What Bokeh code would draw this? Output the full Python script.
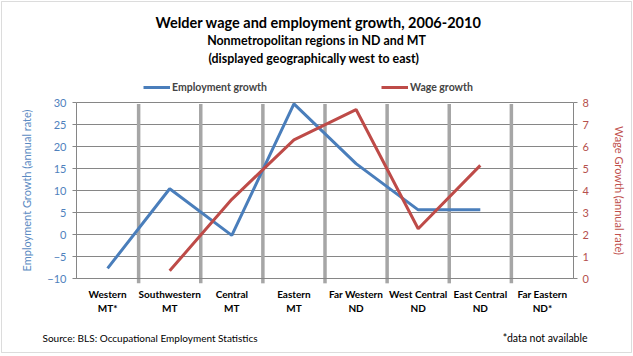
from bokeh.plotting import figure
from bokeh.models import (Range1d, LinearAxis, Label, Legend, LegendItem,
                          FixedTicker, BoxAnnotation)
from bokeh.embed import file_html
from bokeh.resources import INLINE

# ---- data ----
regions = ["Western\nMT*", "Southwestern\nMT", "Central\nMT", "Eastern\nMT",
           "Far Western\nND", "West Central\nND", "East Central\nND", "Far Eastern\nND*"]
employment_growth = [-7.7, 10.4, -0.2, 29.7, 16.1, 5.6, 5.6, float("nan")]
wage_growth = [float("nan"), 0.35, 3.6, 6.3, 7.68, 2.26, 5.14, float("nan")]
emp_ticks = [-10, -5, 0, 5, 10, 15, 20, 25, 30]
wage_ticks = [0, 1, 2, 3, 4, 5, 6, 7, 8]

title_text = "Welder wage and employment growth, 2006-2010"
subtitle1 = "Nonmetropolitan regions in ND and MT"
subtitle2 = "(displayed geographically  west to east)"
source_text = "Source:  BLS: Occupational Employment Statistics"
note_text = "*data not available"

FONT = "Lato"
BLUE = "#4a7ebb"
RED = "#be4b48"
GRID = "#868686"
W, H = 633, 356

# plot-area geometry (pixels in the canvas)
PL, PR, PT, PB = 76, 573, 102, 278

n = len(regions)
xpos = list(range(n))
x_lo, x_hi = -0.5, n - 0.5
e_lo, e_hi = emp_ticks[0], emp_ticks[-1]
w_lo, w_hi = wage_ticks[0], wage_ticks[-1]

xs = (PR - PL) / (x_hi - x_lo)
ys = (PB - PT) / (e_hi - e_lo)
xr = Range1d(x_lo - PL / xs, x_hi + (W - PR) / xs)
yr = Range1d(e_lo - (H - PB) / ys, e_hi + PT / ys)
k = (w_hi - w_lo) / (e_hi - e_lo)
wr = Range1d(w_lo + (yr.start - e_lo) * k, w_lo + (yr.end - e_lo) * k)

p = figure(width=W, height=H, x_range=xr, y_range=yr, output_backend="svg",
           toolbar_location=None, min_border=0)
p.title.visible = False
p.outline_line_color = None
p.grid.grid_line_color = None
p.extra_y_ranges = {"wage": wr}

# horizontal gridlines
p.segment(x0=[x_lo] * len(emp_ticks), x1=[x_hi] * len(emp_ticks), y0=emp_ticks, y1=emp_ticks,
          line_color=GRID, line_width=1)

# vertical gray dividers between regions
div_x = [i + 0.5 for i in xpos[:-1]]
p.segment(x0=div_x, y0=[e_lo - 1.1] * len(div_x), x1=div_x, y1=[e_hi - 0.35] * len(div_x),
          line_color="#a6a6a6", line_width=3.5)

# series
r_emp = p.line(xpos, employment_growth, line_color=BLUE, line_width=3)
r_wage = p.line(xpos, wage_growth, line_color=RED, line_width=3, y_range_name="wage")

# left axis
la = p.yaxis[0]
la.fixed_location = x_lo
la.bounds = (e_lo, e_hi)
la.ticker = FixedTicker(ticks=emp_ticks)
la.axis_label = "Employment Growth (annual rate)"
la.axis_label_text_color = "#5b8ac2"
la.axis_label_text_font = FONT
la.axis_label_text_font_style = "normal"
la.axis_label_text_font_size = "11px"
la.axis_label_standoff = 11
la.major_label_text_color = "#4f81bd"
la.major_label_text_font = FONT
la.major_label_text_font_size = "11px"
la.major_label_standoff = 6
la.major_tick_out = 4
la.major_tick_in = 0
la.minor_tick_line_color = None
la.axis_line_color = GRID
la.major_tick_line_color = GRID

# right axis
ra = LinearAxis(y_range_name="wage", ticker=FixedTicker(ticks=wage_ticks),
                fixed_location=x_hi, bounds=(w_lo, w_hi))
ra.axis_label = "Wage Growth (annual rate)"
ra.axis_label_text_color = "#c0504d"
ra.axis_label_text_font = FONT
ra.axis_label_text_font_style = "normal"
ra.axis_label_text_font_size = "11px"
ra.axis_label_standoff = 21
ra.major_label_text_color = "#b5504d"
ra.major_label_text_font = FONT
ra.major_label_text_font_size = "11px"
ra.major_label_standoff = 5
ra.major_tick_out = 4
ra.major_tick_in = 0
ra.minor_tick_line_color = None
ra.axis_line_color = GRID
ra.major_tick_line_color = GRID
p.add_layout(ra, "right")

# bottom axis
xa = p.xaxis[0]
xa.fixed_location = e_lo
xa.bounds = (x_lo, x_hi)
xa.ticker = FixedTicker(ticks=xpos)
xa.major_label_overrides = {i: r for i, r in zip(xpos, regions)}
xa.major_label_text_font = FONT
xa.major_label_text_font_style = "bold"
xa.major_label_text_font_size = "10px"
xa.major_label_text_color = "black"
xa.major_label_standoff = 3
xa.major_tick_line_color = None
xa.minor_tick_line_color = None
xa.axis_line_color = GRID

# legends
for r, name, lx in [(r_emp, "Employment growth", 143), (r_wage, "Wage growth", 381)]:
    lg = Legend(items=[LegendItem(label=name, renderers=[r])], location=(lx, H - 94),
                orientation="horizontal", padding=0, spacing=0, margin=0,
                glyph_width=27, glyph_height=14, label_height=14, label_standoff=2,
                label_text_font=FONT, label_text_font_style="bold",
                label_text_font_size="10.5px", border_line_color=None,
                background_fill_alpha=0)
    p.add_layout(lg, "center")


def lab(text, x, y, size, bold=False, align="center", color="black"):
    p.add_layout(Label(x=x, y=H - y, x_units="screen", y_units="screen", text=text,
                       text_font=FONT, text_font_size=size, text_color=color,
                       text_font_style="bold" if bold else "normal",
                       text_align=align, text_baseline="middle"))


lab(title_text, 318, 22, "14.5px", bold=True)
lab(subtitle1, 316, 40, "12.4px", bold=True)
lab(subtitle2, 315, 57.5, "12.4px", bold=True)
lab(source_text, 42, 337, "10px", align="left")
lab(note_text, 587, 337, "10.5px", align="right")

# chart border
p.add_layout(BoxAnnotation(left=1, right=W - 2, bottom=4, top=H - 1,
                           left_units="screen", right_units="screen",
                           bottom_units="screen", top_units="screen",
                           fill_alpha=0, line_color="#8c8c8c", line_width=1))

open("out.html", "w").write(file_html(p, INLINE))
